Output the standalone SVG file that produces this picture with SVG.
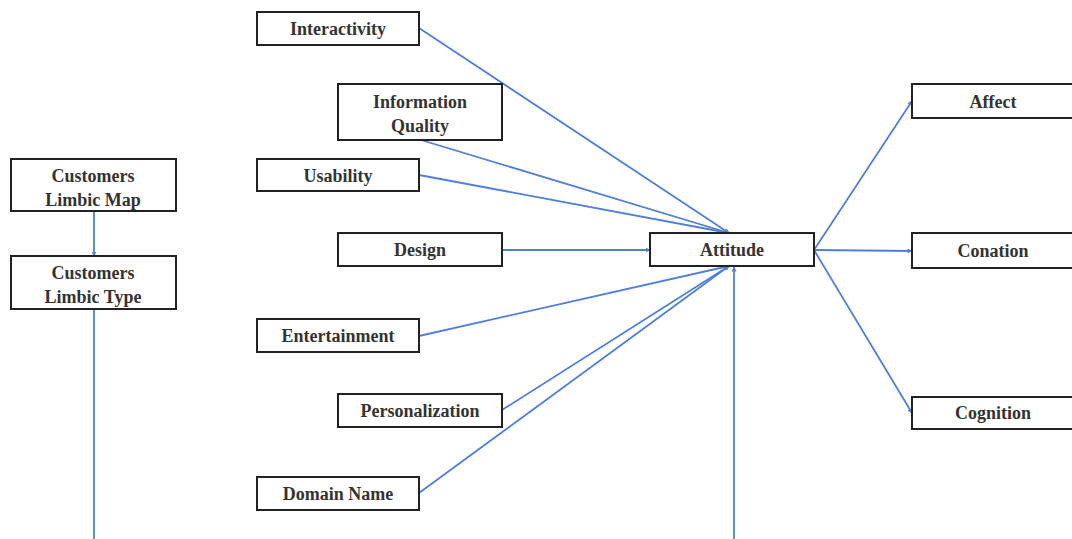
<svg xmlns="http://www.w3.org/2000/svg" width="1072" height="539" viewBox="0 0 1072 539">
<style>
.box{fill:#fff;stroke:#222;stroke-width:2}
.t{font-family:"Liberation Serif","Times New Roman",serif;font-size:18px;font-weight:bold;fill:#333;text-anchor:middle}
.c{stroke:#4f7fd6;stroke-width:1.8;fill:none}
</style>
<defs>
<marker id="a" viewBox="0 0 10 10" refX="9" refY="5" markerWidth="5" markerHeight="5" orient="auto" markerUnits="userSpaceOnUse"><path d="M0,0 L10,5 L0,10 z" fill="#4f7fd6"/></marker>
</defs>
<rect width="1072" height="539" fill="#fff"/>
<g id="connectors">
<line class="c" x1="94" y1="211" x2="94" y2="256" marker-end="url(#a)"/>
<line class="c" x1="94" y1="309" x2="94" y2="539"/>
<line class="c" x1="419" y1="28" x2="729" y2="233" marker-end="url(#a)"/>
<line class="c" x1="421" y1="140" x2="729" y2="233" marker-end="url(#a)"/>
<line class="c" x1="419" y1="175" x2="729" y2="233" marker-end="url(#a)"/>
<line class="c" x1="502" y1="250" x2="650" y2="250" marker-end="url(#a)"/>
<line class="c" x1="419" y1="336" x2="729" y2="266" marker-end="url(#a)"/>
<line class="c" x1="502" y1="410" x2="729" y2="266" marker-end="url(#a)"/>
<line class="c" x1="419" y1="493" x2="729" y2="266" marker-end="url(#a)"/>
<line class="c" x1="734" y1="539" x2="734" y2="267" marker-end="url(#a)"/>
<line class="c" x1="814" y1="250" x2="912" y2="101" marker-end="url(#a)"/>
<line class="c" x1="814" y1="250" x2="912" y2="251" marker-end="url(#a)"/>
<line class="c" x1="814" y1="250" x2="912" y2="413" marker-end="url(#a)"/>
</g>
<g id="limbic-map"><rect class="box" x="11" y="159" width="165" height="52"/><text class="t" x="93" y="182">Customers</text><text class="t" x="93" y="206">Limbic Map</text></g>
<g id="limbic-type"><rect class="box" x="11" y="256" width="165" height="53"/><text class="t" x="93" y="279">Customers</text><text class="t" x="93" y="303">Limbic Type</text></g>
<g id="interactivity"><rect class="box" x="257" y="12" width="162" height="33"/><text class="t" x="338" y="35">Interactivity</text></g>
<g id="information-quality"><rect class="box" x="338" y="84" width="164" height="56"/><text class="t" x="420" y="108">Information</text><text class="t" x="420" y="132">Quality</text></g>
<g id="usability"><rect class="box" x="257" y="159" width="162" height="32"/><text class="t" x="338" y="182">Usability</text></g>
<g id="design"><rect class="box" x="338" y="233" width="164" height="33"/><text class="t" x="420" y="256">Design</text></g>
<g id="entertainment"><rect class="box" x="257" y="319" width="162" height="33"/><text class="t" x="338" y="342">Entertainment</text></g>
<g id="personalization"><rect class="box" x="338" y="394" width="164" height="33"/><text class="t" x="420" y="417">Personalization</text></g>
<g id="domain-name"><rect class="box" x="257" y="477" width="162" height="33"/><text class="t" x="338" y="500">Domain Name</text></g>
<g id="attitude"><rect class="box" x="650" y="233" width="164" height="33"/><text class="t" x="732" y="256">Attitude</text></g>
<g id="affect"><rect class="box" x="912" y="84" width="170" height="34"/><text class="t" x="993" y="108">Affect</text></g>
<g id="conation"><rect class="box" x="912" y="233" width="170" height="35"/><text class="t" x="993" y="257">Conation</text></g>
<g id="cognition"><rect class="box" x="912" y="397" width="170" height="32"/><text class="t" x="993" y="419">Cognition</text></g>
</svg>
